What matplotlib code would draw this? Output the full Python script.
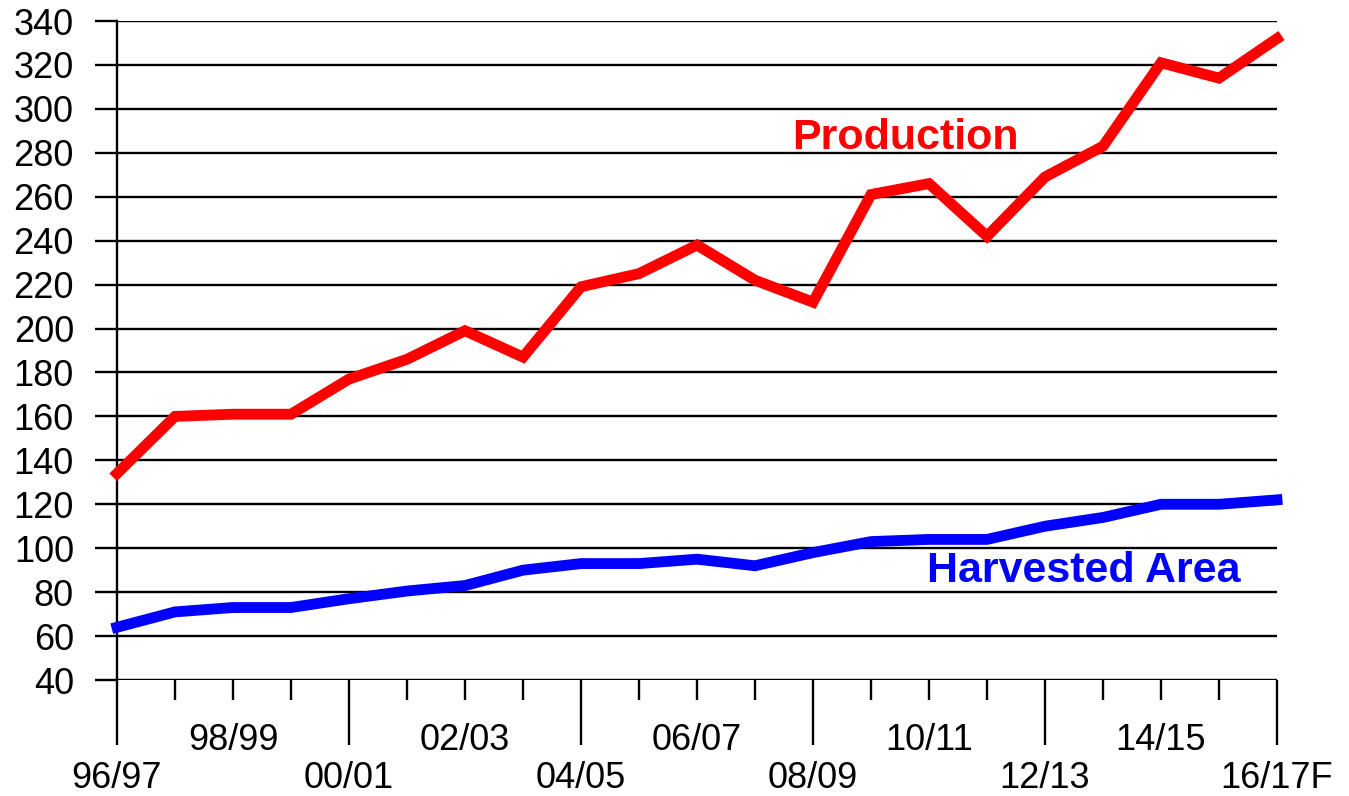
import numpy as np
import matplotlib.pyplot as plt
from matplotlib.ticker import FixedLocator, FixedFormatter

plt.rcParams['font.family'] = ['Liberation Sans', 'DejaVu Sans']

seasons = ["96/97", "97/98", "98/99", "99/00", "00/01", "01/02", "02/03",
           "03/04", "04/05", "05/06", "06/07", "07/08", "08/09", "09/10",
           "10/11", "11/12", "12/13", "13/14", "14/15", "15/16", "16/17F"]
production = [134, 160, 161, 161, 177, 186, 199, 187, 219, 225, 238, 222,
              212, 261, 266, 242, 269, 283, 321, 314, 332]
harvested_area = [64, 71, 73, 73, 77, 80.5, 83, 90, 93, 93, 95, 92, 98,
                  103, 104, 104, 110, 114, 120, 120, 122]

x = np.arange(len(seasons))

fig = plt.figure(figsize=(13.49, 7.96), dpi=100)
ax = fig.add_axes([117/1349, 1 - 680/796, (1277-117)/1349, (680-21)/796])

# horizontal grid
for v in range(40, 341, 20):
    ax.axhline(v, color='black', lw=1.7, zorder=1, xmin=0, xmax=1)

ax.plot(x, production, color='#ff0000', lw=7.8, zorder=3, clip_on=False,
        solid_joinstyle='miter')
ax.plot(x, harvested_area, color='#0000ff', lw=7.8, zorder=3, clip_on=False,
        solid_joinstyle='miter')

ax.text(13.6, 286.8, "Production", color='#ff0000', fontsize=31,
        fontweight='bold', ha='center', va='center')
ax.text(16.66, 89.5, "Harvested Area", color='#0000ff', fontsize=31,
        fontweight='bold', ha='center', va='center')

ax.set_xlim(0, len(seasons) - 1)
ax.set_ylim(40, 340)

for s in ['top', 'right', 'bottom']:
    ax.spines[s].set_visible(False)
ax.spines['left'].set_linewidth(1.7)

ax.set_yticks(range(40, 341, 20))
ax.tick_params(axis='y', length=16, width=1.7, labelsize=26, pad=15)

major = [i for i in x if i % 4 == 0]
minor = [i for i in x if i % 4 != 0]
ax.xaxis.set_major_locator(FixedLocator(major))
ax.xaxis.set_major_formatter(FixedFormatter([seasons[i] for i in major]))
ax.xaxis.set_minor_locator(FixedLocator(minor))
ax.xaxis.set_minor_formatter(FixedFormatter(
    [seasons[i] if i % 4 == 2 else "" for i in minor]))
ax.tick_params(axis='x', which='major', length=47, width=1.7,
               labelsize=26, pad=11)
ax.tick_params(axis='x', which='minor', length=14.5, width=1.7,
               labelsize=26, pad=16.5)

fig.savefig("out.png", dpi=100)
